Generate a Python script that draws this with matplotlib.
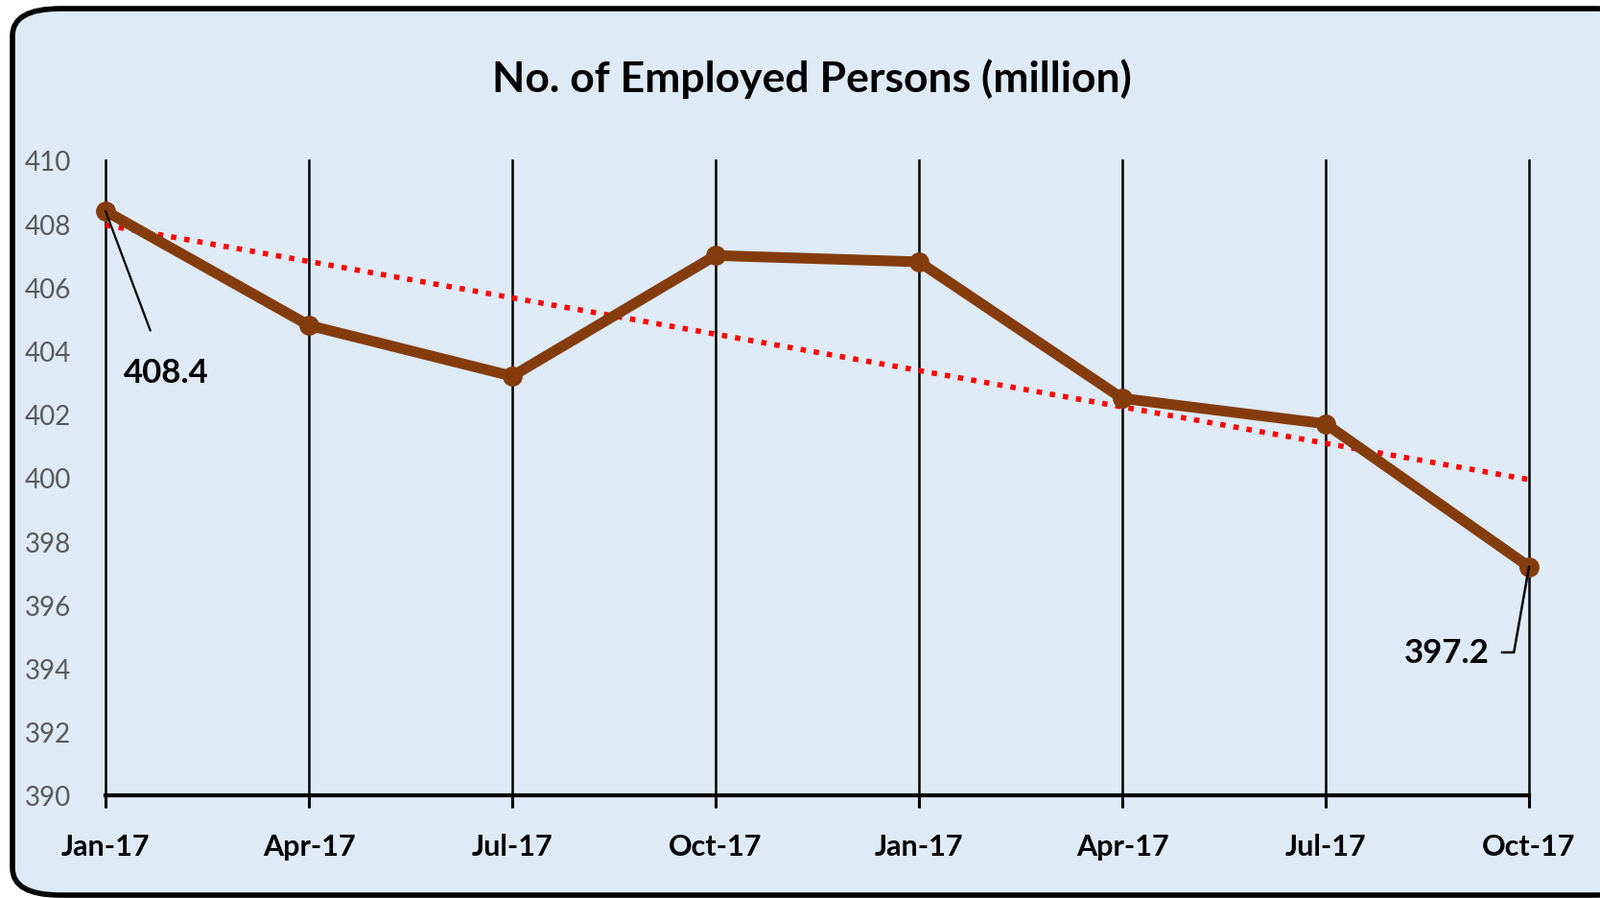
import matplotlib.pyplot as plt
import numpy as np
from matplotlib.patches import FancyBboxPatch
from matplotlib import font_manager

quarters = ["Jan-17", "Apr-17", "Jul-17", "Oct-17", "Jan-17", "Apr-17", "Jul-17", "Oct-17"]
employed = [408.4, 404.8, 403.2, 407.0, 406.8, 402.5, 401.7, 397.2]
y_ticks = list(range(390, 411, 2))

names = {f.name for f in font_manager.fontManager.ttflist}
font = "Lato" if "Lato" in names else "DejaVu Sans"
plt.rcParams["font.family"] = [font, "DejaVu Sans"]

bg = "#deeaf6"
fig = plt.figure(figsize=(16.68, 9.37), dpi=100)
fig.patch.set_facecolor("white")

# rounded chart frame
frame = FancyBboxPatch((13 / 1668, 3 / 937), 1700 / 1668, 924 / 937,
                       boxstyle="round,pad=0,rounding_size=0.03",
                       transform=fig.transFigure, facecolor=bg,
                       edgecolor="black", linewidth=4, zorder=-5)
fig.patches.append(frame)

ax = fig.add_axes([110 / 1668, 1 - 830 / 937, 1484 / 1668, 662 / 937])
ax.set_zorder(2)
ax.set_facecolor("none")

x = np.arange(len(employed))
ax.set_xlim(0, len(employed) - 1)
ax.set_ylim(390, 410)

# vertical gridlines
for xi in x:
    ax.axvline(xi, color="black", linewidth=1.8, zorder=1, clip_on=False)

# linear trend (Excel style)
slope, intercept = np.polyfit(x, employed, 1)
ax.plot(x, slope * x + intercept, color="red", linewidth=4,
        linestyle=(0, (1, 1.5)), zorder=2, clip_on=False)

ax.plot(x, employed, color="#843c0c", linewidth=8, marker="o",
        markersize=14, zorder=3, clip_on=False)

for s in ["top", "left", "right"]:
    ax.spines[s].set_visible(False)
ax.spines["bottom"].set_linewidth(3)
ax.spines["bottom"].set_color("black")

ax.set_xticks(x)
ax.set_xticklabels(quarters, fontsize=22, fontweight="bold")
ax.tick_params(axis="x", length=9, width=2.2, direction="out", pad=19)
ax.set_yticks(y_ticks)
ax.set_yticklabels([str(v) for v in y_ticks], fontsize=20, color="#595959")
ax.tick_params(axis="y", length=0, pad=26)

# data labels with leader lines
ax.annotate("408.4", xy=(x[0], employed[0]), xytext=(173 / 1668, 1 - 389 / 937),
            textcoords="figure fraction", ha="center", va="center",
            fontsize=25, fontweight="bold",
            arrowprops=dict(arrowstyle="-", color="black", lw=1.6,
                            shrinkA=19, shrinkB=0))
ax.annotate("397.2", xy=(x[-1], employed[-1]), xytext=(1508 / 1668, 1 - 681 / 937),
            textcoords="figure fraction", ha="center", va="center",
            fontsize=25, fontweight="bold",
            arrowprops=dict(arrowstyle="-", color="black", lw=1.8,
                            shrinkA=0, shrinkB=0,
                            connectionstyle="angle,angleA=0,angleB=80,rad=0",
                            relpos=(1.15, 0.5)))

fig.text(846 / 1668, 1 - 82 / 937, "No. of Employed Persons (million)",
         ha="center", va="center", fontsize=32, fontweight="bold")

fig.savefig("out.png", dpi=100, facecolor=fig.get_facecolor())
